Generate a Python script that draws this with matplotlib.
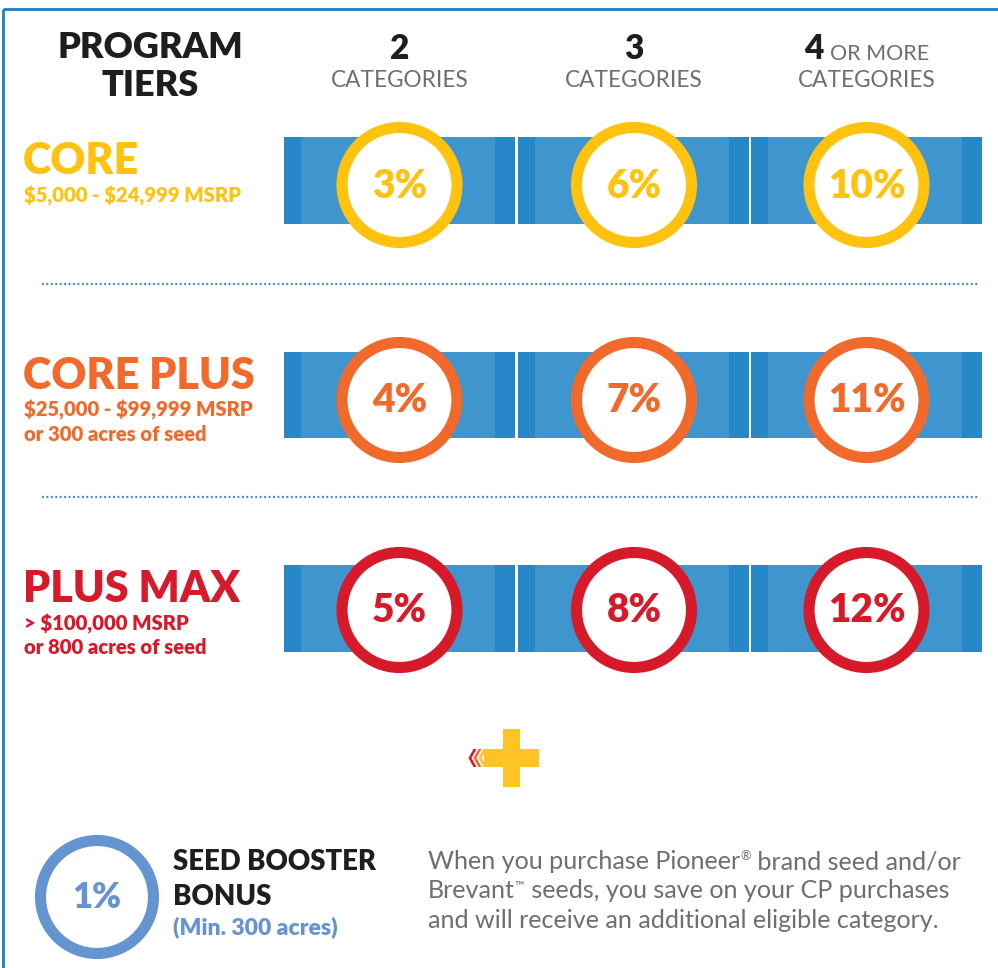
import matplotlib
matplotlib.use("Agg")
import matplotlib.pyplot as plt
from matplotlib.patches import Circle, Rectangle, Polygon

plt.rcParams['font.family'] = ['Lato', 'DejaVu Sans']
plt.rcParams['text.parse_math'] = False

# Data
tier_names = ["CORE", "CORE PLUS", "PLUS MAX"]
tier_ranges = [
    ["$5,000 - $24,999 MSRP"],
    ["$25,000 - $99,999 MSRP", "or 300 acres of seed"],
    ["> $100,000 MSRP", "or 800 acres of seed"],
]
tier_colors = ["#FFC20E", "#F26A2B", "#D71A2A"]
category_counts = ["2", "3", "4"]
category_labels = ["CATEGORIES", "CATEGORIES", "CATEGORIES"]
rebates = [
    [3, 6, 10],
    [4, 7, 11],
    [5, 8, 12],
]
bonus_value = 1
bonus_title = ["SEED BOOSTER", "BONUS"]
bonus_note = "(Min. 300 acres)"
# each line: list of (text, is_superscript)
bonus_text = [
    [("When you purchase Pioneer", False), ("\u00ae", True), (" brand seed and/or", False)],
    [("Brevant", False), ("\u2122", True), (" seeds, you save on your CP purchases", False)],
    [("and will receive an additional eligible category.", False)],
]

# Layout (pixel units)
W, H = 998, 968
col_x0 = [284, 518.5, 751]
col_w = 231
row_band = [(137, 224), (352, 438), (565, 652)]
row_circle_y = [185, 400, 610]
sep_y = [284, 497]
ring_r = 57.5
light_blue = "#3F95CD"
dark_blue = "#2688C9"
gray = "#6D6E71"
black = "#1E1E1E"
bonus_blue = "#6495D0"

fig = plt.figure(figsize=(W / 100, H / 100), dpi=100)
ax = fig.add_axes([0, 0, 1, 1])
ax.set_xlim(0, W)
ax.set_ylim(H, 0)
ax.axis('off')
renderer = fig.canvas.get_renderer()

# frame
ax.plot([3, W], [9, 9], color="#1B7CC7", lw=2, solid_capstyle='butt')
ax.plot([3, 3], [9, H], color="#1B7CC7", lw=2, solid_capstyle='butt')

# header
ax.text(150, 58, "PROGRAM", fontsize=26, fontweight='heavy', color=black, ha='center', va='baseline')
ax.text(150, 96, "TIERS", fontsize=26, fontweight='heavy', color=black, ha='center', va='baseline')
for j in range(3):
    cx = col_x0[j] + col_w / 2
    if j < 2:
        ax.text(cx, 59, category_counts[j], fontsize=24, fontweight='heavy', color=black, ha='center', va='baseline')
    else:
        ax.text(cx - 62, 59, category_counts[j], fontsize=24, fontweight='heavy', color=black, ha='left', va='baseline')
        ax.text(cx - 36, 60, "OR MORE", fontsize=15.5, color=gray, ha='left', va='baseline')
    ax.text(cx, 87, category_labels[j], fontsize=16.3, color=gray, ha='center', va='baseline')

# tiers
for i in range(3):
    y0, y1 = row_band[i]
    col = tier_colors[i]
    base = y0 + 37
    ax.text(23, base, tier_names[i], fontsize=31, fontweight='heavy', color=col, ha='left', va='baseline')
    for k, line in enumerate(tier_ranges[i]):
        ax.text(24, base + 28 + k * 24, line, fontsize=14.6, fontweight='heavy', color=col, ha='left', va='baseline')
    for j in range(3):
        x0 = col_x0[j]
        ax.add_patch(Rectangle((x0, y0), col_w, y1 - y0, facecolor=dark_blue, lw=0))
        ax.add_patch(Rectangle((x0 + 17, y0), col_w - 37, y1 - y0, facecolor=light_blue, lw=0))
        cx = x0 + col_w / 2
        cy = row_circle_y[i]
        ax.add_patch(Circle((cx, cy), ring_r, facecolor='white', edgecolor=col, lw=8, zorder=3))
        ax.text(cx, cy + 1, f"{rebates[i][j]}%", fontsize=28, fontweight='heavy', color=col,
                ha='center', va='center', zorder=4)

for y in sep_y:
    ax.plot([42, 978], [y, y], color="#2B8AD0", lw=1.6, ls=(0, (0.8, 1.2)))

# plus sign with chevrons
ax.add_patch(Rectangle((503, 729), 17, 58, facecolor="#FFC326", lw=0))
ax.add_patch(Rectangle((484, 749), 55, 18, facecolor="#FFC326", lw=0))
for k, c in enumerate(["#D71A2A", "#F26A2B", "#FFC326"]):
    xs = 468.5 + k * 5
    ax.add_patch(Polygon([(xs, 758), (xs + 5, 749), (xs + 8, 749), (xs + 3, 758), (xs + 8, 767), (xs + 5, 767)],
                         closed=True, facecolor=c, lw=0))

# bonus
ax.add_patch(Circle((97, 897), 56.5, facecolor='white', edgecolor=bonus_blue, lw=8))
ax.text(97, 898, f"{bonus_value}%", fontsize=25, fontweight='heavy', color=bonus_blue, ha='center', va='center')
ax.text(173, 870, bonus_title[0], fontsize=19.8, fontweight='heavy', color=black, ha='left', va='baseline')
ax.text(173, 905, bonus_title[1], fontsize=19.8, fontweight='heavy', color=black, ha='left', va='baseline')
ax.text(173, 934, bonus_note, fontsize=16.5, fontweight='heavy', color=bonus_blue, ha='left', va='baseline')
for k, parts in enumerate(bonus_text):
    x = 428
    yb = 869 + k * 29.5
    for txt, sup in parts:
        t = ax.text(x, yb - (9 if sup else 0), txt, fontsize=9 if sup else 18.1, color=gray,
                    ha='left', va='baseline')
        bb = t.get_window_extent(renderer)
        x += bb.width  # 1 px == 1 data unit here
        if sup:
            x += 1

fig.savefig("out.png", dpi=100)
